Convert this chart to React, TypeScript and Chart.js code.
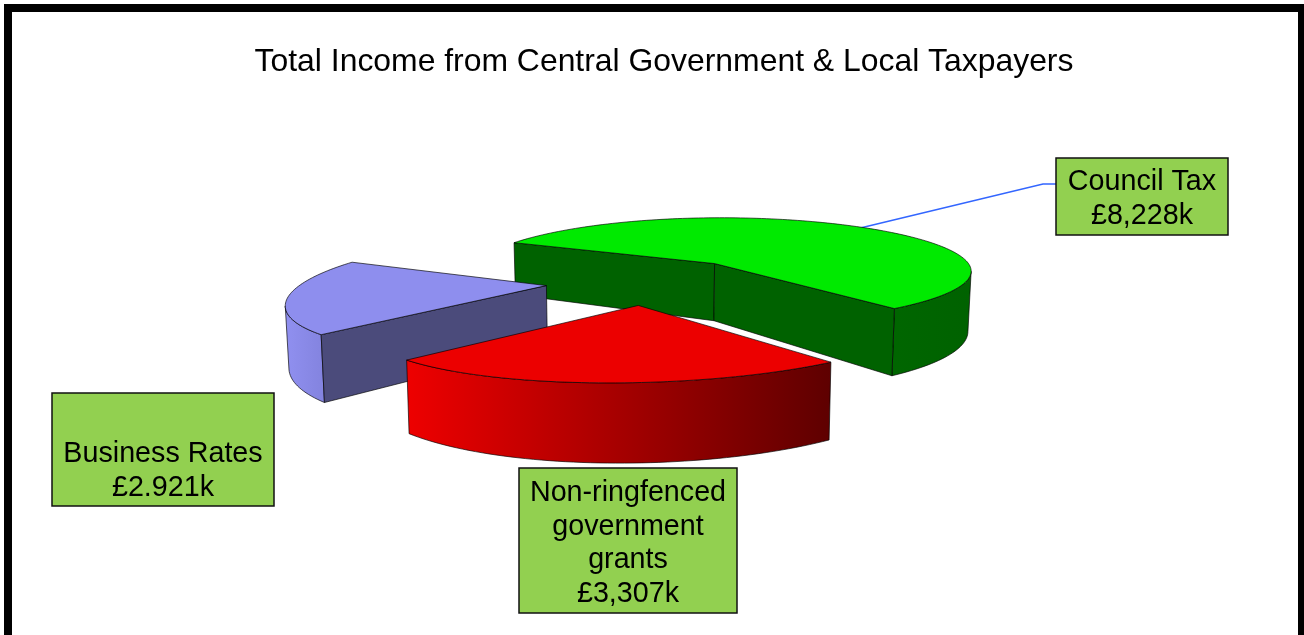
import React, { useEffect, useRef } from "react";
import { Chart, registerables } from "chart.js";

Chart.register(...registerables);

const categories = ["Council Tax", "Non-ringfenced government grants", "Business Rates"];
const values = [8228, 3307, 2921];
const valueLabels = ["£8,228k", "£3,307k", "£2.921k"];
const titleText = "Total Income from Central Government & Local Taxpayers";

const topColors = ["#00EA00", "#EC0000", "#8E8EEE"];
const faceColors = ["#006200", "#8A0000", "#4B4B7B"];
const wallStops = [
  ["#006600", "#006200"],
  ["#EE0000", "#5E0000"],
  ["#9090F0", "#8484E0"],
];

// Tilted-disc projection of the unit pie plane onto the canvas.
const centerX = 649;
const centerY = 281;
const scaleX = 257;
const scaleY = 57.5;
const shear = -20;
const perspectiveY = 0.18;
const perspectiveX = 0.03;
const verticalPerspective = 0.15;
const thickness = 60;
const taper = 0.99;
const explode = 0.4;
const startRotation = -65;

const calloutBoxes = [
  { x: 1056, y: 158, w: 172, h: 77, lines: ["Council Tax", valueLabels[0]], first: 182 },
  { x: 519, y: 468, w: 218, h: 145, lines: ["Non-ringfenced", "government", "grants", valueLabels[1]], first: 493 },
  { x: 52, y: 393, w: 222, h: 113, lines: ["Business Rates", valueLabels[2]], first: 454 },
];

type P = { x: number; y: number };

const depth = (X: number, Y: number) => 1 - perspectiveY * Y - perspectiveX * X;

const top = (X: number, Y: number): P => ({
  x: centerX + (scaleX * X + shear * Y) / depth(X, Y),
  y: centerY + (scaleY * Y) / (1 - verticalPerspective * Y),
});

const bottom = (X: number, Y: number): P => {
  const p = top(X, Y);
  return { x: centerX + (p.x - centerX) * taper, y: p.y + thickness / depth(X, Y) };
};

const pieFaces = {
  id: "pieFaces",
  beforeDatasetsDraw(chart: any) {
    const ctx = chart.ctx;
    ctx.save();
    ctx.strokeStyle = "#3366FF";
    ctx.lineWidth = 1.5;
    ctx.beginPath();
    ctx.moveTo(852, 230);
    ctx.lineTo(1043, 184);
    ctx.lineTo(1056, 184);
    ctx.stroke();
    ctx.restore();
  },
  beforeDatasetDraw(chart: any) {
    const ctx = chart.ctx;
    const slices = chart.getDatasetMeta(0).data.map((arc: any, i: number) => {
      const mid = (arc.startAngle + arc.endAngle) / 2;
      const ox = Math.cos(mid) * explode;
      const oy = Math.sin(mid) * explode;
      const rim: [number, number][] = [];
      const steps = Math.max(12, Math.round((arc.endAngle - arc.startAngle) * 40));
      for (let k = 0; k <= steps; k++) {
        const a = arc.startAngle + ((arc.endAngle - arc.startAngle) * k) / steps;
        rim.push([ox + Math.cos(a), oy + Math.sin(a)]);
      }
      return { i, ox, oy, rim, start: arc.startAngle, end: arc.endAngle };
    });
    slices.sort((a: any, b: any) => a.oy - b.oy);

    const poly = (pts: P[]) => {
      ctx.beginPath();
      pts.forEach((p, n) => (n ? ctx.lineTo(p.x, p.y) : ctx.moveTo(p.x, p.y)));
      ctx.closePath();
    };
    const paint = (fill: any) => {
      ctx.fillStyle = fill;
      ctx.fill();
      ctx.strokeStyle = "rgba(0,0,0,0.65)";
      ctx.lineWidth = 1;
      ctx.stroke();
    };

    ctx.save();
    ctx.lineJoin = "round";
    for (const s of slices) {
      const rimTop = s.rim.map(([X, Y]: number[]) => top(X, Y));
      const rimBottom = s.rim.map(([X, Y]: number[]) => bottom(X, Y));

      // Curved outer wall: only the part running right-to-left faces the viewer.
      let from = -1;
      let to = -1;
      for (let k = 0; k < rimTop.length - 1; k++) {
        if (rimTop[k + 1].x < rimTop[k].x) {
          if (from < 0) from = k;
          to = k + 1;
        }
      }
      if (from >= 0) {
        const upper = rimTop.slice(from, to + 1);
        const lower = rimBottom.slice(from, to + 1).reverse();
        const g = ctx.createLinearGradient(upper[upper.length - 1].x, 0, upper[0].x, 0);
        g.addColorStop(0, wallStops[s.i][0]);
        g.addColorStop(1, wallStops[s.i][1]);
        poly([...upper, ...lower]);
        paint(g);
      }

      // Straight cut faces: a cut shows only when the slice's top lies above its edge.
      const cuts = [
        { rim: s.rim[0], inward: [-Math.sin(s.start), Math.cos(s.start)] },
        { rim: s.rim[s.rim.length - 1], inward: [Math.sin(s.end), -Math.cos(s.end)] },
      ].sort((a, b) => a.rim[1] - b.rim[1]);
      for (const { rim: [X, Y], inward } of cuts) {
        const a = top(s.ox, s.oy);
        const b = top(X, Y);
        const probe = top((s.ox + X) / 2 + inward[0] * 0.1, (s.oy + Y) / 2 + inward[1] * 0.1);
        const edgeY = a.y + ((probe.x - a.x) * (b.y - a.y)) / (b.x - a.x);
        if (probe.y < edgeY) {
          poly([a, b, bottom(X, Y), bottom(s.ox, s.oy)]);
          paint(faceColors[s.i]);
        }
      }

      poly([top(s.ox, s.oy), ...rimTop]);
      paint(topColors[s.i]);
    }
    ctx.restore();
    return false;
  },
  afterDraw(chart: any) {
    const ctx = chart.ctx;
    ctx.save();
    // Frame around the chart; it runs off the lower edge of the page.
    ctx.fillStyle = "#000";
    ctx.fillRect(4, 4, 1300, 8);
    ctx.fillRect(4, 4, 8, 631);
    ctx.fillRect(1298, 4, 6, 631);

    ctx.font = "28.7px 'Liberation Sans'";
    ctx.textAlign = "center";
    ctx.textBaseline = "middle";
    for (const b of calloutBoxes) {
      ctx.fillStyle = "#92D050";
      ctx.strokeStyle = "#111";
      ctx.lineWidth = 1.5;
      ctx.fillRect(b.x, b.y, b.w, b.h);
      ctx.strokeRect(b.x, b.y, b.w, b.h);
      ctx.fillStyle = "#000";
      b.lines.forEach((line, n) => ctx.fillText(line, b.x + b.w / 2, b.first + n * 33.7));
    }
    ctx.restore();
  },
};

export default function App() {
  const ref = useRef<HTMLCanvasElement>(null);
  useEffect(() => {
    document.body.style.margin = "0";
    const chart = new Chart(ref.current!, {
      type: "pie",
      data: {
        labels: categories,
        datasets: [{ data: values, backgroundColor: topColors, borderWidth: 0 }],
      },
      options: {
        animation: false,
        responsive: false,
        rotation: startRotation,
        layout: { padding: { left: 24 } },
        plugins: {
          legend: { display: false },
          tooltip: { enabled: false },
          title: {
            display: true,
            text: titleText,
            color: "#000",
            font: { family: "'Liberation Sans'", size: 31.9, weight: "normal" },
            padding: { top: 43, bottom: 10 },
          },
        },
      },
      plugins: [pieFaces],
    });
    return () => chart.destroy();
  }, []);
  return <canvas ref={ref} width={1304} height={635} style={{ display: "block" }} />;
}
